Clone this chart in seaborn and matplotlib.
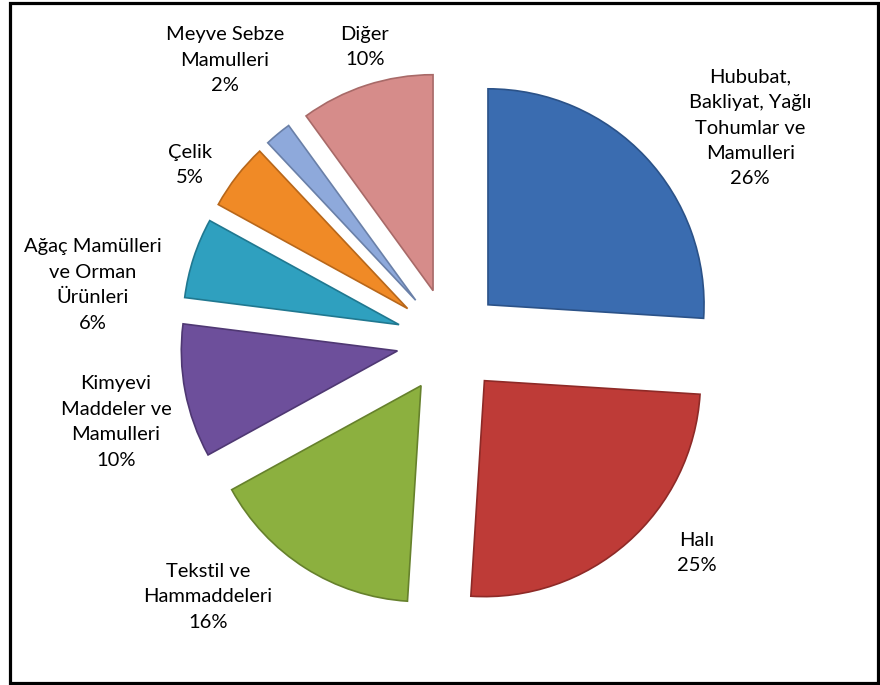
import matplotlib.pyplot as plt
import matplotlib.patches as patches
import seaborn as sns

# Data
categories = ['Hububat,\nBakliyat, Yağlı\nTohumlar ve\nMamulleri', 'Halı', 'Tekstil ve\nHammaddeleri',
              'Kimyevi\nMaddeler ve\nMamulleri', 'Ağaç Mamülleri\nve Orman\nÜrünleri', 'Çelik',
              'Meyve Sebze\nMamulleri', 'Diğer']
shares = [26, 25, 16, 10, 6, 5, 2, 10]

colors = ['#3A6CB0', '#BE3B37', '#8CB03F', '#6D4F9B', '#2FA0BF', '#F08A26', '#8EA9DB', '#D68C8A']
edges = ['#2B5288', '#8E2A27', '#66812C', '#4F3873', '#207890', '#B8671A', '#6A80A8', '#A86A68']

# label centres (data units, radius = 1)
label_pos = [(1.392, 0.986), (1.146, -0.981), (-1.118, -1.185), (-1.543, -0.375),
             (-1.65, 0.259), (-1.201, 0.815), (-1.039, 1.301), (-0.391, 1.361)]

sns.set_theme(style='white')
plt.rcParams['font.family'] = ['Lato', 'DejaVu Sans']

fig = plt.figure(figsize=(8.8, 6.85), dpi=100)
ax = fig.add_axes([0, 0, 1, 1])

wedges, _ = ax.pie(shares, colors=sns.color_palette(colors), startangle=90, counterclock=False,
                   explode=[0.245] * len(shares), radius=1.0,
                   wedgeprops=dict(linewidth=1.2))
for w, ec in zip(wedges, edges):
    w.set_edgecolor(ec)

for lab, val, (x, y) in zip(categories, shares, label_pos):
    ax.text(x, y, f'{lab}\n{val}%', ha='center', va='center', fontsize=14.5,
            linespacing=1.6, color='black')

ax.set_aspect('auto')
ax.set_xlim(-2.08, 1.993)
ax.set_ylim(-1.593, 1.579)
ax.axis('off')

fig.patches.append(patches.Rectangle((0.0114, 0.003), 0.9863, 0.9926, transform=fig.transFigure,
                                     fill=False, edgecolor='black', linewidth=2.3))

fig.savefig('out.png', dpi=100, facecolor='white')
